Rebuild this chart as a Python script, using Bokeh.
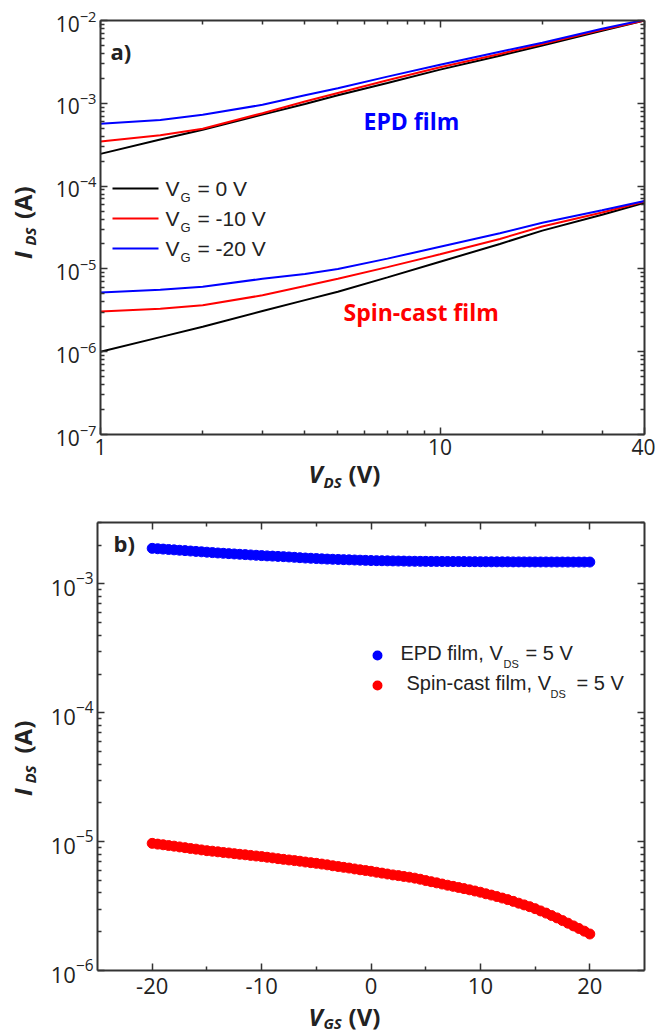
from bokeh.plotting import figure
from bokeh.models import (LogAxis, LinearAxis, FixedTicker, BasicTickFormatter,
                          LogTickFormatter, CustomJSTickFormatter, Label, BoxAnnotation, Range1d)
from bokeh.layouts import column, row
from bokeh.core.properties import value
from bokeh.embed import file_html
from bokeh.resources import INLINE

# ---------------- data: panel a) ----------------
vds = [1, 1.5, 2, 3, 4, 5, 7, 10, 15, 20, 30, 40]
epd_vg0 = [2.45e-4, 3.65e-4, 4.8e-4, 7.3e-4, 9.8e-4, 1.25e-3, 1.76e-3, 2.55e-3, 3.75e-3, 5.0e-3, 7.5e-3, 1.0e-2]
epd_vg10 = [3.46e-4, 4.1e-4, 4.92e-4, 7.6e-4, 1.05e-3, 1.33e-3, 1.9e-3, 2.72e-3, 3.95e-3, 5.2e-3, 7.7e-3, 1.0e-2]
epd_vg20 = [5.65e-4, 6.3e-4, 7.26e-4, 9.6e-4, 1.25e-3, 1.52e-3, 2.1e-3, 2.92e-3, 4.2e-3, 5.4e-3, 7.95e-3, 1.02e-2]
spin_vg0 = [1.0e-6, 1.5e-6, 2.0e-6, 3.1e-6, 4.2e-6, 5.3e-6, 7.9e-6, 1.22e-5, 2.0e-5, 2.9e-5, 4.5e-5, 6.3e-5]
spin_vg10 = [3.05e-6, 3.3e-6, 3.65e-6, 4.8e-6, 6.2e-6, 7.6e-6, 1.05e-5, 1.5e-5, 2.3e-5, 3.25e-5, 4.8e-5, 6.5e-5]
spin_vg20 = [5.2e-6, 5.6e-6, 6.1e-6, 7.6e-6, 8.7e-6, 1.0e-5, 1.33e-5, 1.85e-5, 2.7e-5, 3.6e-5, 5.1e-5, 6.6e-5]

# ---------------- data: panel b) ----------------
vgs = [-20.0, -19.5, -19.0, -18.5, -18.0, -17.5, -17.0, -16.5, -16.0, -15.5,
       -15.0, -14.5, -14.0, -13.5, -13.0, -12.5, -12.0, -11.5, -11.0, -10.5,
       -10.0, -9.5, -9.0, -8.5, -8.0, -7.5, -7.0, -6.5, -6.0, -5.5,
       -5.0, -4.5, -4.0, -3.5, -3.0, -2.5, -2.0, -1.5, -1.0, -0.5,
       0.0, 0.5, 1.0, 1.5, 2.0, 2.5, 3.0, 3.5, 4.0, 4.5,
       5.0, 5.5, 6.0, 6.5, 7.0, 7.5, 8.0, 8.5, 9.0, 9.5,
       10.0, 10.5, 11.0, 11.5, 12.0, 12.5, 13.0, 13.5, 14.0, 14.5,
       15.0, 15.5, 16.0, 16.5, 17.0, 17.5, 18.0, 18.5, 19.0, 19.5, 20.0]
epd_ids_mA = [1.890, 1.877, 1.865, 1.852, 1.840, 1.827, 1.815, 1.802, 1.790, 1.777,
              1.765, 1.752, 1.740, 1.730, 1.720, 1.710, 1.700, 1.690, 1.680, 1.670,
              1.660, 1.652, 1.645, 1.637, 1.630, 1.620, 1.610, 1.600, 1.590, 1.583,
              1.575, 1.567, 1.560, 1.555, 1.550, 1.545, 1.540, 1.535, 1.530, 1.525,
              1.520, 1.517, 1.515, 1.512, 1.510, 1.507, 1.505, 1.502, 1.500, 1.499,
              1.498, 1.497, 1.496, 1.495, 1.494, 1.493, 1.492, 1.491, 1.490, 1.489,
              1.488, 1.487, 1.486, 1.486, 1.485, 1.485, 1.484, 1.484, 1.483, 1.483,
              1.482, 1.482, 1.482, 1.481, 1.481, 1.481, 1.480, 1.480, 1.480, 1.480, 1.480]
spin_ids_uA = [9.70, 9.57, 9.46, 9.33, 9.23, 9.10, 8.98, 8.85, 8.75, 8.63,
               8.51, 8.43, 8.34, 8.24, 8.17, 8.07, 7.98, 7.91, 7.82, 7.74,
               7.66, 7.57, 7.48, 7.38, 7.29, 7.21, 7.13, 7.05, 6.95, 6.87,
               6.79, 6.70, 6.61, 6.50, 6.41, 6.32, 6.24, 6.14, 6.05, 5.97,
               5.89, 5.79, 5.70, 5.61, 5.52, 5.45, 5.37, 5.30, 5.21, 5.11,
               4.99, 4.89, 4.79, 4.69, 4.59, 4.50, 4.41, 4.32, 4.23, 4.14,
               4.05, 3.94, 3.85, 3.75, 3.65, 3.55, 3.44, 3.33, 3.23, 3.13,
               3.02, 2.90, 2.79, 2.67, 2.56, 2.44, 2.33, 2.22, 2.12, 2.02, 1.92]

epd_ids = [v * 1e-3 for v in epd_ids_mA]
spin_ids = [v * 1e-6 for v in spin_ids_uA]

AX = "#333333"
TXT = "#222222"
BLUE = "#0000ff"
RED = "#ff0000"
TICKFONT = "Open Sans"
LEGFONT = "Liberation Sans"
SHIFT = 0.45   # measured offset of the rendered baseline, in em


def style_axis(ax, label_size, standoff=4):
    ax.axis_line_width = 2
    ax.axis_line_color = AX
    ax.major_tick_line_color = AX
    ax.minor_tick_line_color = AX
    ax.major_tick_line_width = 1.5
    ax.minor_tick_line_width = 1.5
    ax.major_tick_in = 7
    ax.major_tick_out = 0
    ax.minor_tick_in = 4
    ax.minor_tick_out = 0
    ax.major_label_text_font = TICKFONT
    ax.major_label_text_color = TXT
    ax.major_label_text_font_size = label_size
    ax.major_label_standoff = standoff


def mirror(ax):
    # ticks only, no tick labels
    style_axis(ax, "10px", 0)
    ax.formatter = CustomJSTickFormatter(code="return ''")


def lab(p, x, y, text, size, style="normal", font=TICKFONT, color=TXT):
    y = y + SHIFT * size
    p.add_layout(Label(x=x, y=y, x_units="screen", y_units="screen", text=text,
                       text_font=font, text_font_size=f"{size}px", text_font_style=style,
                       text_color=color, text_align="left", text_baseline="alphabetic"))


def title_fig(w, h, margin=None):
    kw = {} if margin is None else {"margin": margin}
    f = figure(width=w, height=h, x_range=Range1d(0, w), y_range=Range1d(0, h),
               output_backend="svg", toolbar_location=None, title_location=None,
               x_axis_location=None, y_axis_location=None, min_border=0, **kw)
    f.outline_line_color = None
    f.background_fill_color = None
    f.border_fill_color = None
    f.grid.visible = False
    return f


def ttext(f, x, y, text, size, style, rotated=False):
    if rotated:
        x = x - SHIFT * size
        angle = 1.5708
    else:
        y = y + SHIFT * size
        angle = 0.0
    f.text(x=[x], y=[y], text=[text], text_font=value(TICKFONT), text_font_size=value(f"{size}px"),
           text_font_style=style, text_color=TXT, text_align="left",
           text_baseline="alphabetic", angle=angle)


# ====================== panel a) ======================
p1 = figure(width=610, height=467, x_axis_type="log", y_axis_type="log",
            x_range=Range1d(1, 40), y_range=Range1d(1e-7, 1e-2),
            output_backend="svg", toolbar_location=None, title_location=None,
            min_border_left=55, min_border_right=11, min_border_top=20, min_border_bottom=33)
p1.outline_line_color = None
p1.grid.visible = False

xt1 = FixedTicker(ticks=[1, 10, 40], minor_ticks=[2, 3, 4, 5, 6, 7, 8, 9, 20, 30])
yt1 = FixedTicker(ticks=[10.0 ** e for e in range(-7, -1)],
                  minor_ticks=[k * 10.0 ** e for e in range(-7, -2) for k in range(2, 10)])
p1.xaxis.ticker = xt1
p1.xaxis.formatter = BasicTickFormatter()
p1.yaxis.ticker = yt1
p1.yaxis.formatter = LogTickFormatter()
style_axis(p1.xaxis[0], "21px", 4)
style_axis(p1.yaxis[0], "21px", 4)
top1 = LogAxis(ticker=xt1)
right1 = LogAxis(ticker=yt1)
mirror(top1)
mirror(right1)
p1.add_layout(top1, "above")
p1.add_layout(right1, "right")

for ys, c in [(epd_vg0, "black"), (epd_vg10, RED), (epd_vg20, BLUE),
              (spin_vg0, "black"), (spin_vg10, RED), (spin_vg20, BLUE)]:
    p1.line(vds, ys, line_color=c, line_width=2)

# frame of panel a: left page x=100, bottom page y=434
lab(p1, 10, 374, "a)", 22, "bold")
lab(p1, 263, 303, "EPD film", 23, "bold", color=BLUE)
lab(p1, 243, 112, "Spin-cast film", 23, "bold", color=RED)

leg_rows = [("black", "= 0 V"), (RED, "= -10 V"), (BLUE, "= -20 V")]
for i, (c, t) in enumerate(leg_rows):
    yl = 246 - 30 * i
    p1.add_layout(BoxAnnotation(left=12, right=58, bottom=yl - 1, top=yl + 1,
                                left_units="screen", right_units="screen",
                                bottom_units="screen", top_units="screen",
                                fill_color=c, fill_alpha=1.0, line_color=None))
    lab(p1, 65, yl - 9, "V", 21, font=LEGFONT)
    lab(p1, 80, yl - 15, "G", 13, font=LEGFONT)
    lab(p1, 97, yl - 9, t, 21, font=LEGFONT)

# ====================== panel b) ======================
p2 = figure(width=610, height=508, y_axis_type="log",
            x_range=Range1d(-25, 25), y_range=Range1d(1e-6, 3e-3),
            output_backend="svg", toolbar_location=None, title_location=None,
            min_border_left=52, min_border_right=11, min_border_top=22, min_border_bottom=38)
p2.outline_line_color = None
p2.grid.visible = False

xt2 = FixedTicker(ticks=[-20, -10, 0, 10, 20], minor_ticks=[-15, -5, 5, 15])
yt2 = FixedTicker(ticks=[1e-6, 1e-5, 1e-4, 1e-3],
                  minor_ticks=[k * 10.0 ** e for e in range(-6, -3) for k in range(2, 10)] + [2e-3, 3e-3])
p2.xaxis.ticker = xt2
p2.xaxis.formatter = CustomJSTickFormatter(code="return tick.toFixed(0)")
p2.yaxis.ticker = yt2
p2.yaxis.formatter = LogTickFormatter()
style_axis(p2.xaxis[0], "22px", 7)
style_axis(p2.yaxis[0], "22px", 4)
top2 = LinearAxis(ticker=xt2)
right2 = LogAxis(ticker=yt2)
mirror(top2)
mirror(right2)
p2.add_layout(top2, "above")
p2.add_layout(right2, "right")

p2.scatter(vgs, epd_ids, size=10, fill_color=BLUE, line_color=BLUE)
p2.scatter(vgs, spin_ids, size=10, fill_color=RED, line_color=RED)

# frame of panel b: left page x=97, bottom page y=970
lab(p2, 16, 418, "b)", 22, "bold")

for yc, c in [(315, BLUE), (285, RED)]:
    p2.add_layout(BoxAnnotation(left=275, right=285, bottom=yc - 5, top=yc + 5,
                                left_units="screen", right_units="screen",
                                bottom_units="screen", top_units="screen",
                                fill_color=c, fill_alpha=1.0, line_color=None,
                                border_radius=5))
lab(p2, 303, 309, "EPD film, V", 20, font=LEGFONT)
lab(p2, 406, 302, "DS", 11, font=LEGFONT)
lab(p2, 428, 309, "= 5 V", 20, font=LEGFONT)
lab(p2, 309, 279, "Spin-cast film, V", 20, font=LEGFONT)
lab(p2, 453, 272, "DS", 11, font=LEGFONT)
lab(p2, 479, 279, "= 5 V", 20, font=LEGFONT)

# ====================== axis titles (separate strips) ======================
ylabA = title_fig(45, 467)          # page y 0..467, local y = 467 - page_y
ttext(ylabA, 33, 198, "I", 24, "bold italic", True)
ttext(ylabA, 36, 213, "DS", 15, "bold italic", True)
ttext(ylabA, 33, 243, "(A)", 24, "bold", True)

xlabA = title_fig(655, 45, margin=(-12, 0, 0, 0))   # page y 455..500
ttext(xlabA, 308, 16, "V", 24, "bold italic")
ttext(xlabA, 323, 12, "DS", 15, "bold italic")
ttext(xlabA, 348, 16, "(V)", 24, "bold")

ylabB = title_fig(45, 508)          # page y 500..1008, local y = 1008 - page_y
ttext(ylabB, 33, 198, "I", 24, "bold italic", True)
ttext(ylabB, 36, 212, "DS", 15, "bold italic", True)
ttext(ylabB, 33, 246, "(A)", 24, "bold", True)

xlabB = title_fig(655, 34, margin=(-8, 0, 0, 0))   # page y 1000..1034
ttext(xlabB, 308, 7, "V", 24, "bold italic")
ttext(xlabB, 323, 5, "GS", 15, "bold italic")
ttext(xlabB, 348, 7, "(V)", 24, "bold")

layout = column(row(ylabA, p1), xlabA, row(ylabB, p2), xlabB)
open("out.html", "w").write(file_html(layout, INLINE))
